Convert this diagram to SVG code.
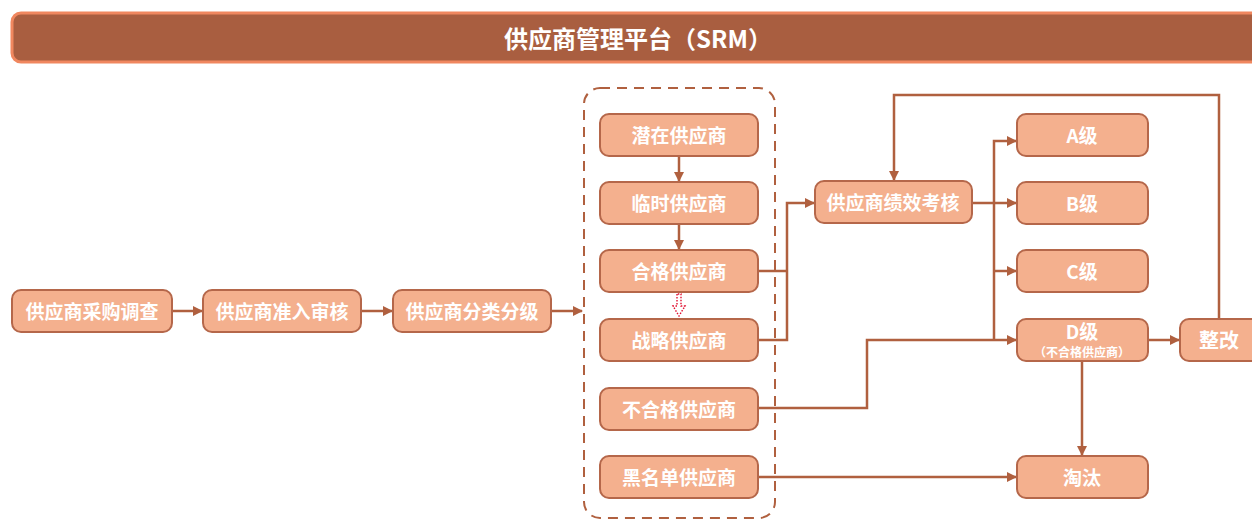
<svg xmlns="http://www.w3.org/2000/svg" width="1252" height="520" viewBox="0 0 1252 520">
<style>
.box{fill:#F4B08E;stroke:#B5674A;stroke-width:2}
.t{font-family:"Noto Sans CJK SC","Noto Sans",sans-serif;font-weight:bold;fill:#fff;font-size:19px;text-anchor:middle;dominant-baseline:central}
.ln{fill:none;stroke:#B0603F;stroke-width:2.5}
</style>
<defs>
<marker id="ah" markerWidth="10" markerHeight="10" refX="9" refY="5" orient="auto" markerUnits="userSpaceOnUse">
<path d="M0,0 L10,5 L0,10 Z" fill="#B0603F"/>
</marker>
</defs>
<g id="title">
<rect x="12" y="13" width="1260" height="49" rx="9" fill="#A95E40" stroke="#F0875F" stroke-width="3"/>
<text class="t" x="638" y="37" style="font-size:24px">供应商管理平台（SRM）</text>
</g>
<g id="container">
<rect x="584" y="88" width="191" height="430" rx="16" fill="none" stroke="#B0603F" stroke-width="2" stroke-dasharray="10,7"/>
</g>
<g id="connectors">
<path class="ln" d="M172,311 H202" marker-end="url(#ah)"/>
<path class="ln" d="M361,311 H392" marker-end="url(#ah)"/>
<path class="ln" d="M551,311 H582" marker-end="url(#ah)"/>
<path class="ln" d="M679,156 V181" marker-end="url(#ah)"/>
<path class="ln" d="M679,224 V249" marker-end="url(#ah)"/>
<path d="M677,294 V306 H673 L679,316 L685,306 H681 V294 Z" fill="none" stroke="#E01030" stroke-width="1.4" stroke-dasharray="1.5,1.5"/>
<path class="ln" d="M758,271 H787"/>
<path class="ln" d="M758,340 H787 V203 H814" marker-end="url(#ah)"/>
<path class="ln" d="M972,203 H1016" marker-end="url(#ah)"/>
<path class="ln" d="M994,340 V141 H1016" marker-end="url(#ah)"/>
<path class="ln" d="M994,271 H1016" marker-end="url(#ah)"/>
<path class="ln" d="M758,408 H867 V340 H1016" marker-end="url(#ah)"/>
<path class="ln" d="M1148,340 H1179" marker-end="url(#ah)"/>
<path class="ln" d="M1219,319 V95 H894 V180" marker-end="url(#ah)"/>
<path class="ln" d="M1082,361 V455" marker-end="url(#ah)"/>
<path class="ln" d="M758,477 H1016" marker-end="url(#ah)"/>
</g>
<g id="n1"><rect class="box" x="12" y="290" width="160" height="42" rx="9"/><text class="t" x="92" y="310">供应商采购调查</text></g>
<g id="n2"><rect class="box" x="203" y="290" width="158" height="42" rx="9"/><text class="t" x="282" y="310">供应商准入审核</text></g>
<g id="n3"><rect class="box" x="393" y="290" width="158" height="42" rx="9"/><text class="t" x="472" y="310">供应商分类分级</text></g>
<g id="m1"><rect class="box" x="600" y="114" width="158" height="42" rx="9"/><text class="t" x="679" y="134">潜在供应商</text></g>
<g id="m2"><rect class="box" x="600" y="182" width="158" height="42" rx="9"/><text class="t" x="679" y="202">临时供应商</text></g>
<g id="m3"><rect class="box" x="600" y="250" width="158" height="42" rx="9"/><text class="t" x="679" y="270">合格供应商</text></g>
<g id="m4"><rect class="box" x="600" y="319" width="158" height="42" rx="9"/><text class="t" x="679" y="339">战略供应商</text></g>
<g id="m5"><rect class="box" x="600" y="388" width="158" height="42" rx="9"/><text class="t" x="679" y="408">不合格供应商</text></g>
<g id="m6"><rect class="box" x="600" y="456" width="158" height="42" rx="9"/><text class="t" x="679" y="476">黑名单供应商</text></g>
<g id="perf"><rect class="box" x="815" y="181" width="157" height="42" rx="9"/><text class="t" x="893" y="201">供应商绩效考核</text></g>
<g id="ga"><rect class="box" x="1017" y="114" width="131" height="42" rx="9"/><text class="t" x="1082" y="134">A级</text></g>
<g id="gb"><rect class="box" x="1017" y="182" width="131" height="42" rx="9"/><text class="t" x="1082" y="202">B级</text></g>
<g id="gc"><rect class="box" x="1017" y="250" width="131" height="42" rx="9"/><text class="t" x="1082" y="270">C级</text></g>
<g id="gd"><rect class="box" x="1017" y="319" width="131" height="42" rx="9"/><text class="t" x="1082" y="330">D级</text><text class="t" x="1082" y="351" style="font-size:12px">（不合格供应商）</text></g>
<g id="fix"><rect class="box" x="1180" y="319" width="90" height="42" rx="9"/><text class="t" x="1219" y="339" style="font-size:20px">整改</text></g>
<g id="out"><rect class="box" x="1017" y="456" width="131" height="42" rx="9"/><text class="t" x="1082" y="476">淘汰</text></g>
</svg>
